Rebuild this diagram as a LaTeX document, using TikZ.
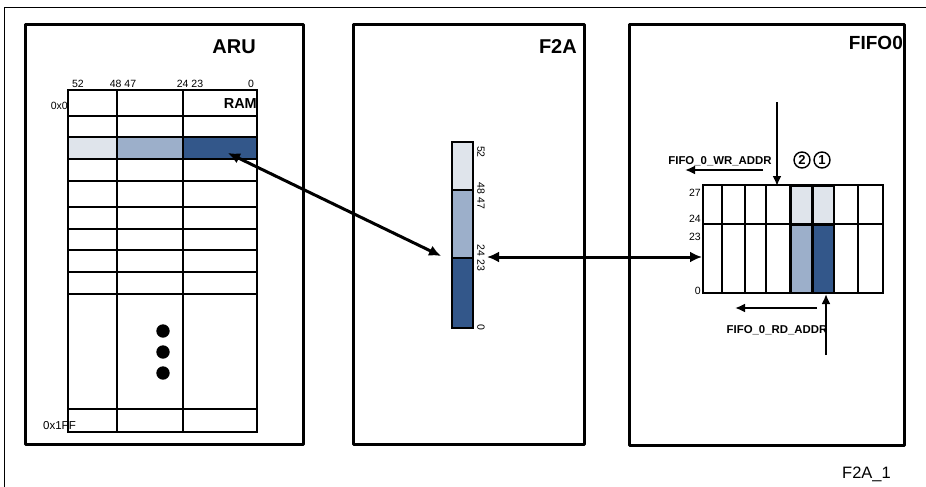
\documentclass[tikz,border=0pt]{standalone}
\usepackage{fontspec}
\setmainfont{Liberation Sans}
\usetikzlibrary{arrows.meta}
\definecolor{lightc}{HTML}{DFE4EB}
\definecolor{medc}{HTML}{9CAFCA}
\definecolor{darkc}{HTML}{33578A}
\newcommand\fsz[1]{\fontsize{#1}{#1}\selectfont}
\tikzset{
  box/.style={line width=3pt, line join=round},
  tabline/.style={line width=1.1pt},
  lbl/.style={font=\fsz{#1}, inner sep=0pt},
  blbl/.style={font=\bfseries\fsz{#1}, inner sep=0pt},
  bigarrow/.style={line width=3pt, {Latex[length=12pt,width=11pt]}-{Latex[length=12pt,width=11pt]}},
  midarrow/.style={line width=2.2pt, -{Latex[length=10pt,width=9pt]}},
  numcirc/.style={circle, draw, line width=1.4pt, minimum size=16pt, inner sep=0pt, font=\bfseries\fsz{13}},
}
\begin{document}
\begin{tikzpicture}[x=1pt,y=-1pt]
\useasboundingbox (0,0) rectangle (926,487);
% outer frame
\draw[line width=1pt] (4,487) -- (4,8) -- (926,8);

% ===== ARU =====
\fill[lightc] (68,137) rectangle (117,159);
\fill[medc] (117,137) rectangle (183,159);
\fill[darkc] (183,137) rectangle (257,159);
\draw[tabline] (68,90) rectangle (257,432);
\foreach \y in {116,137,159,181,207,229,250,272,294,409}
  \draw[tabline] (68,\y) -- (257,\y);
\foreach \x in {117,183}
  \draw[tabline] (\x,90) -- (\x,432);
\draw[line width=1.5pt] (68,137) rectangle (257,159);
\foreach \y in {331,352,373}
  \fill (163,\y) circle (6.7);
\node[lbl=10.5, anchor=base] (h52) at (78,87) {52};
\node[lbl=10.5, anchor=base] (h48) at (123,87) {48 47};
\node[lbl=10.5, anchor=base] (h24) at (190,87) {24 23};
\node[lbl=10.5, anchor=base] (h0) at (251,87) {0};
\node[lbl=10.5, anchor=base east] (a0) at (68,109) {0x0};
\node[blbl=14.5, anchor=base east] (ram) at (257,108) {RAM};
\node[lbl=11.5, anchor=base west] (a1ff) at (43,429) {0x1FF};
\node[blbl=20, anchor=base east] (aru) at (256,53) {ARU};
\draw[box] (25,25) rectangle (303,444);
\coordinate (aruCell) at (228,153);

% ===== F2A =====
\fill[lightc] (452,142) rectangle (473,190);
\fill[medc] (452,190) rectangle (473,258);
\fill[darkc] (452,258) rectangle (473,328);
\draw[tabline] (452,142) rectangle (473,328);
\draw[tabline] (452,190) -- (473,190);
\draw[tabline] (452,258) -- (473,258);
\node[lbl=10.5, rotate=-90] (b52) at (481,152) {52};
\node[lbl=10.5, rotate=-90] (b48) at (481,196) {48 47};
\node[lbl=10.5, rotate=-90] (b24) at (481,258) {24 23};
\node[lbl=10.5, rotate=-90] (b0) at (481,327) {0};
\node[blbl=20, anchor=base east] (f2a) at (577,53) {F2A};
\draw[box] (353,25) rectangle (584,444);
\coordinate (barL) at (441,256);
\coordinate (barR) at (487,257);

% ===== FIFO0 =====
\fill[lightc] (791,186) rectangle (811,223);
\fill[medc] (791,225) rectangle (811,292);
\fill[lightc] (813,186) rectangle (833,223);
\fill[darkc] (813,225) rectangle (833,292);
\draw[tabline] (703,185) rectangle (883,293);
\draw[tabline] (703,224) -- (883,224);
\foreach \x in {722,745,766,790,812,834,858}
  \draw[tabline] (\x,185) -- (\x,293);
\draw[line width=0.8pt] (791,186) rectangle (811,223) (791,225) rectangle (811,292)
  (813,186) rectangle (833,223) (813,225) rectangle (833,292);
\node[lbl=10.5, anchor=base east] (r27) at (701,196) {27};
\node[lbl=10.5, anchor=base east] (r24) at (701,222) {24};
\node[lbl=10.5, anchor=base east] (r23) at (701,240) {23};
\node[lbl=10.5, anchor=base east] (r0) at (701,294) {0};
\node[blbl=19, anchor=base east] (fifo) at (903,50) {FIFO0};
\draw[box] (629,25) rectangle (904,445);
\coordinate (fifoL) at (702,257);

\node[blbl=11.4, anchor=base] (wr) at (720,164) {FIFO\_0\_WR\_ADDR};
\node[blbl=11.4, anchor=base] (rd) at (777,333) {FIFO\_0\_RD\_ADDR};
\node[numcirc] (c2) at (802,160) {2};
\node[numcirc] (c1) at (822,160) {1};

\coordinate (wrTop) at (777,102);
\coordinate (wrBot) at (777,186);
\coordinate (wrS) at (763,170);
\coordinate (wrE) at (685,170);
\coordinate (rdBot) at (826,355);
\coordinate (rdTop) at (826,294);
\coordinate (rdS) at (817,308);
\coordinate (rdE) at (735,308);
\draw[midarrow] (wrTop) -- (wrBot);
\draw[midarrow] (wrS) -- (wrE);
\draw[midarrow] (rdBot) -- (rdTop);
\draw[midarrow] (rdS) -- (rdE);

% big arrows
\draw[bigarrow] (aruCell) -- (barL);
\draw[bigarrow] (barR) -- (fifoL);

\node[lbl=16.5, anchor=base west] (fig) at (842,478) {F2A\_1};
\end{tikzpicture}
\end{document}
